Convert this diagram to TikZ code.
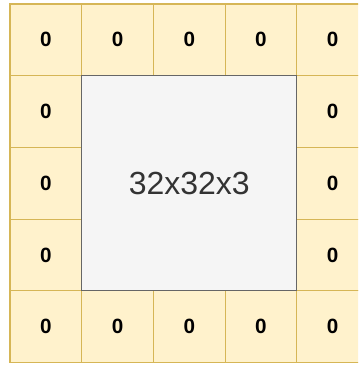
\documentclass[tikz,border=0pt]{standalone}
\usepackage{fontspec}
\setmainfont{Liberation Sans}
\definecolor{padfill}{HTML}{FFF2CC}
\definecolor{paddraw}{HTML}{D6B656}
\definecolor{corefill}{HTML}{F5F5F5}
\definecolor{coredraw}{HTML}{666666}
\definecolor{coretext}{HTML}{333333}
\begin{document}
\begin{tikzpicture}[x=0.75pt,y=-0.75pt,
  padcell/.style={rectangle,draw=paddraw,fill=padfill,line width=0.9pt,
    minimum width=53.775pt,minimum height=53.775pt,inner sep=0pt,
    font=\fontsize{15.5}{17}\selectfont\bfseries},
  corebox/.style={rectangle,draw=coredraw,fill=corefill,line width=0.9pt,
    minimum width=161.3pt,minimum height=161.3pt,inner sep=0pt,
    text=coretext,font=\fontsize{24}{27}\selectfont}]
\clip (0,0) rectangle (358,367);
\fill[white] (0,0) rectangle (358,367);
\foreach \c in {0,...,4}{
  \node[padcell] (t\c) at ({10+71.7*\c+35.85},{4+35.85}) {0};
  \node[padcell] (b\c) at ({10+71.7*\c+35.85},{4+4*71.7+35.85}) {0};
}
\foreach \r in {1,2,3}{
  \node[padcell] (l\r) at ({10+35.85},{4+71.7*\r+35.85}) {0};
  \node[padcell] (r\r) at ({10+4*71.7+35.85},{4+71.7*\r+35.85}) {0};
}
\node[corebox] (core) at ({10+2.5*71.7},{4+2.5*71.7}) {32x32x3};
\end{tikzpicture}
\end{document}
